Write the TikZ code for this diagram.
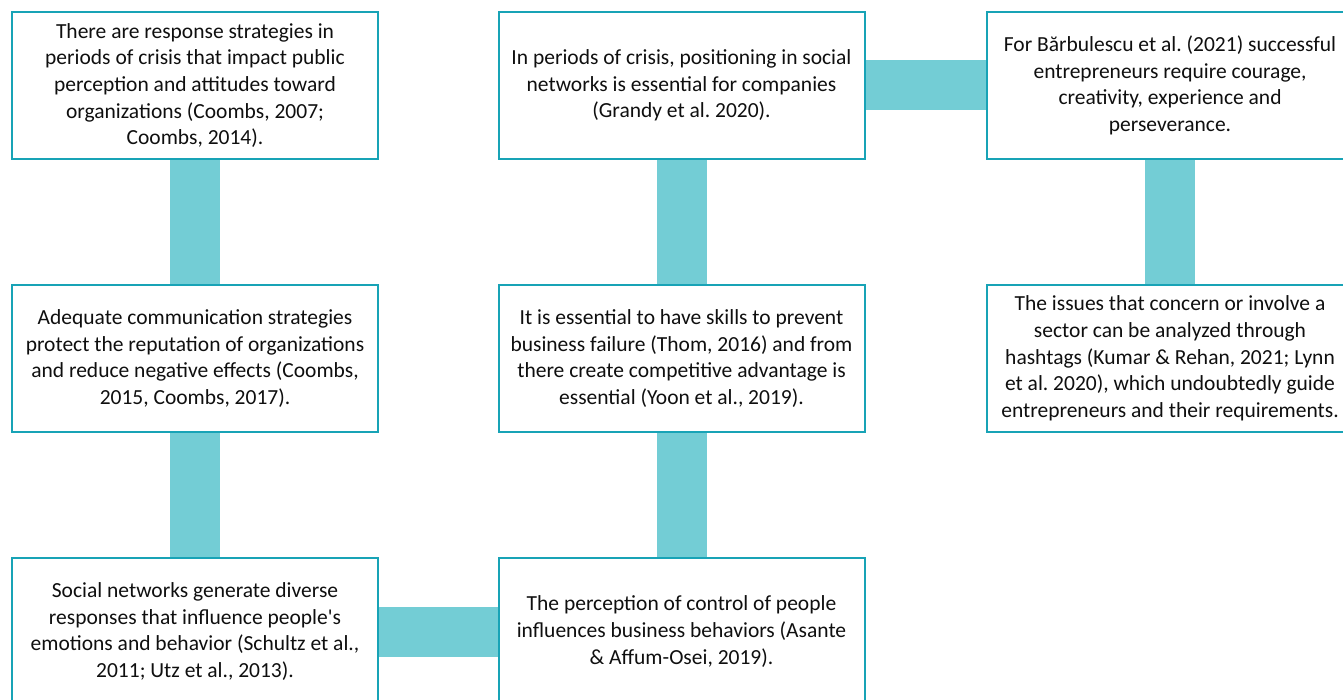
\documentclass[tikz,border=0pt]{standalone}
\usepackage{fontspec}
\setmainfont{Carlito}
\usetikzlibrary{backgrounds}
\definecolor{boxline}{RGB}{24,163,182}
\definecolor{connfill}{RGB}{115,205,213}
\definecolor{txt}{RGB}{15,15,15}
\frenchspacing
\tikzset{
  infobox/.style={draw=boxline, line width=2pt, fill=white, minimum width=366pt, minimum height=147pt,
    inner sep=0pt, align=center, text=txt, font=\fontsize{21.5}{26.7}\selectfont},
  connbar/.style={fill=connfill, draw=none}
}
\begin{document}
\begin{tikzpicture}[x=1pt,y=-1pt]
\useasboundingbox (0,0) rectangle (1343,700);
\node[infobox] (b1) at (195,85.5) {There are response strategies in\\periods of crisis that impact public\\perception and attitudes toward\\organizations (Coombs, 2007;\\Coombs, 2014).};
\node[infobox] (b4) at (195,358.5) {Adequate communication strategies\\protect the reputation of organizations\\and reduce negative effects (Coombs,\\2015, Coombs, 2017).};
\node[infobox] (b7) at (195,631.5) {Social networks generate diverse\\responses that influence people\textquotesingle s\\emotions and behavior (Schultz et al.,\\2011; Utz et al., 2013).};
\node[infobox] (b2) at (681.5,85.5) {In periods of crisis, positioning in social\\networks is essential for companies\\(Grandy et al. 2020).};
\node[infobox] (b5) at (681.5,358.5) {It is essential to have skills to prevent\\business failure (Thom, 2016) and from\\there create competitive advantage is\\essential (Yoon et al., 2019).};
\node[infobox] (b8) at (681.5,631.5) {The perception of control of people\\influences business behaviors (Asante\\\& Affum-Osei, 2019).};
\node[infobox] (b3) at (1170,85.5) {For Bărbulescu et al. (2021) successful\\entrepreneurs require courage,\\creativity, experience and\\perseverance.};
\node[infobox] (b6) at (1170,358.5) {The issues that concern or involve a\\sector can be analyzed through\\hashtags (Kumar \& Rehan, 2021; Lynn\\et al. 2020), which undoubtedly guide\\entrepreneurs and their requirements.};
\begin{scope}[on background layer]
\fill[connbar] ([xshift=-25pt]b1.south) rectangle ([xshift=25pt]b4.north);
\fill[connbar] ([xshift=-25pt]b4.south) rectangle ([xshift=25pt]b7.north);
\fill[connbar] ([xshift=-25pt]b2.south) rectangle ([xshift=25pt]b5.north);
\fill[connbar] ([xshift=-25pt]b5.south) rectangle ([xshift=25pt]b8.north);
\fill[connbar] ([xshift=-25pt]b3.south) rectangle ([xshift=25pt]b6.north);
\fill[connbar] ([yshift=25pt]b2.east) rectangle ([yshift=-25pt]b3.west);
\fill[connbar] ([yshift=25pt]b7.east) rectangle ([yshift=-25pt]b8.west);
\end{scope}
\end{tikzpicture}
\end{document}
